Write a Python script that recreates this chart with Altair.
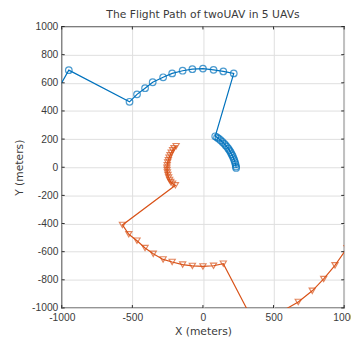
import altair as alt
import pandas as pd

# Blue UAV path (x, y in meters)
blue_x = [-1020, -950, -520, -467, -410, -356, -282, -218, -144, -75, 0, 75, 144, 218,
          87, 100, 112, 125, 138, 150, 160, 170, 180, 188, 196, 203, 210, 216, 222, 227, 231, 234, 235]
blue_y = [565, 690, 465, 518, 562, 604, 639, 667, 686, 697, 701, 692, 681, 667,
          220, 212, 203, 192, 180, 168, 157, 145, 132, 120, 107, 93, 80, 65, 50, 35, 20, 5, -5]
# Orange UAV path
orange_x = [-190, -205, -215, -225, -233, -240, -245, -250, -253, -255, -254, -252, -248, -243, -236, -228, -215, -195,
            -570, -525, -467, -410, -352, -282, -218, -144, -75, 0, 75, 144,
            375, 675, 774, 855, 935, 1020]
orange_y = [150, 135, 120, 103, 85, 68, 50, 33, 15, -3, -20, -38, -55, -73, -90, -105, -118, -128,
            -410, -476, -522, -574, -615, -655, -673, -692, -701, -705, -700, -685,
            -1130, -957, -878, -794, -697, -575]

x_ticks = [-1000, -500, 0, 500, 1000]
y_ticks = [-1000, -800, -600, -400, -200, 0, 200, 400, 600, 800, 1000]

rows = []
for i, (x, y) in enumerate(zip(blue_x, blue_y)):
    rows.append({"uav": "UAV A", "x": x, "y": y, "order": i})
for i, (x, y) in enumerate(zip(orange_x, orange_y)):
    rows.append({"uav": "UAV B", "x": x, "y": y, "order": i})
df = pd.DataFrame(rows)

W, H = 289, 288
xs = alt.Scale(domain=[-1000, 1000], nice=False, zero=False)
ys = alt.Scale(domain=[-1000, 1000], nice=False, zero=False)
col = alt.Scale(domain=["UAV A", "UAV B"], range=["#0072BD", "#D95319"])

common = dict(grid=True, gridColor="#dedede", tickSize=0, domain=False,
              labelColor="#3a3a3a", labelFont="Liberation Sans", labelFontSize=10.5,
              labelExpr="'' + datum.value", labelOverlap=False, labelFlush=False,
              titleFont="DejaVu Sans", titleFontSize=11, titleFontWeight="normal",
              titleColor="#3a3a3a")
xaxis = alt.Axis(values=x_ticks, title="X (meters)", labelPadding=5, titlePadding=3, **common)
yaxis = alt.Axis(values=y_ticks, title="Y (meters)", labelPadding=4, titlePadding=7, **common)

base = alt.Chart(df)
lines = base.mark_line(strokeWidth=1.2, clip=True).encode(
    x=alt.X("x:Q", scale=xs, axis=xaxis),
    y=alt.Y("y:Q", scale=ys, axis=yaxis),
    color=alt.Color("uav:N", scale=col, legend=None),
    detail="uav:N",
    order="order:Q",
)
blue_pts = alt.Chart(df[df.uav == "UAV A"].iloc[1:]).mark_point(
    shape="circle", filled=False, size=46, strokeWidth=1.2, clip=True, color="#0072BD"
).encode(x=alt.X("x:Q", scale=xs, axis=xaxis), y=alt.Y("y:Q", scale=ys, axis=yaxis))
orange_pts = alt.Chart(df[df.uav == "UAV B"]).mark_point(
    shape="triangle-down", filled=False, size=40, strokeWidth=1.2, clip=True, color="#D95319"
).encode(x=alt.X("x:Q", scale=xs, axis=xaxis), y=alt.Y("y:Q", scale=ys, axis=yaxis))

tx = pd.DataFrame({"t": x_ticks})
ty = pd.DataFrame({"t": y_ticks})
tick_bot = alt.Chart(tx).mark_rule(color="#262626", strokeWidth=1).encode(
    x=alt.X("t:Q", scale=xs, axis=xaxis), y=alt.value(H), y2=alt.value(H - 3))
tick_top = alt.Chart(tx).mark_rule(color="#262626", strokeWidth=1).encode(
    x=alt.X("t:Q", scale=xs, axis=xaxis), y=alt.value(0), y2=alt.value(3))
tick_left = alt.Chart(ty).mark_rule(color="#262626", strokeWidth=1).encode(
    y=alt.Y("t:Q", scale=ys, axis=yaxis), x=alt.value(0), x2=alt.value(3))
tick_right = alt.Chart(ty).mark_rule(color="#262626", strokeWidth=1).encode(
    y=alt.Y("t:Q", scale=ys, axis=yaxis), x=alt.value(W), x2=alt.value(W - 3))

chart = alt.layer(lines, blue_pts, orange_pts, tick_bot, tick_top, tick_left, tick_right).properties(
    width=W, height=H,
    title=alt.TitleParams("The Flight Path of twoUAV in 5 UAVs", font="DejaVu Sans",
                          fontSize=11, fontWeight="normal", color="#3a3a3a", offset=2),
    autosize=alt.AutoSizeParams(type="none"),
    padding={"left": 55, "top": 15, "right": 7, "bottom": 37},
).configure_view(stroke="#262626", strokeWidth=1.3)

chart.save("out.html", embed_options={"renderer": "svg", "actions": False})
